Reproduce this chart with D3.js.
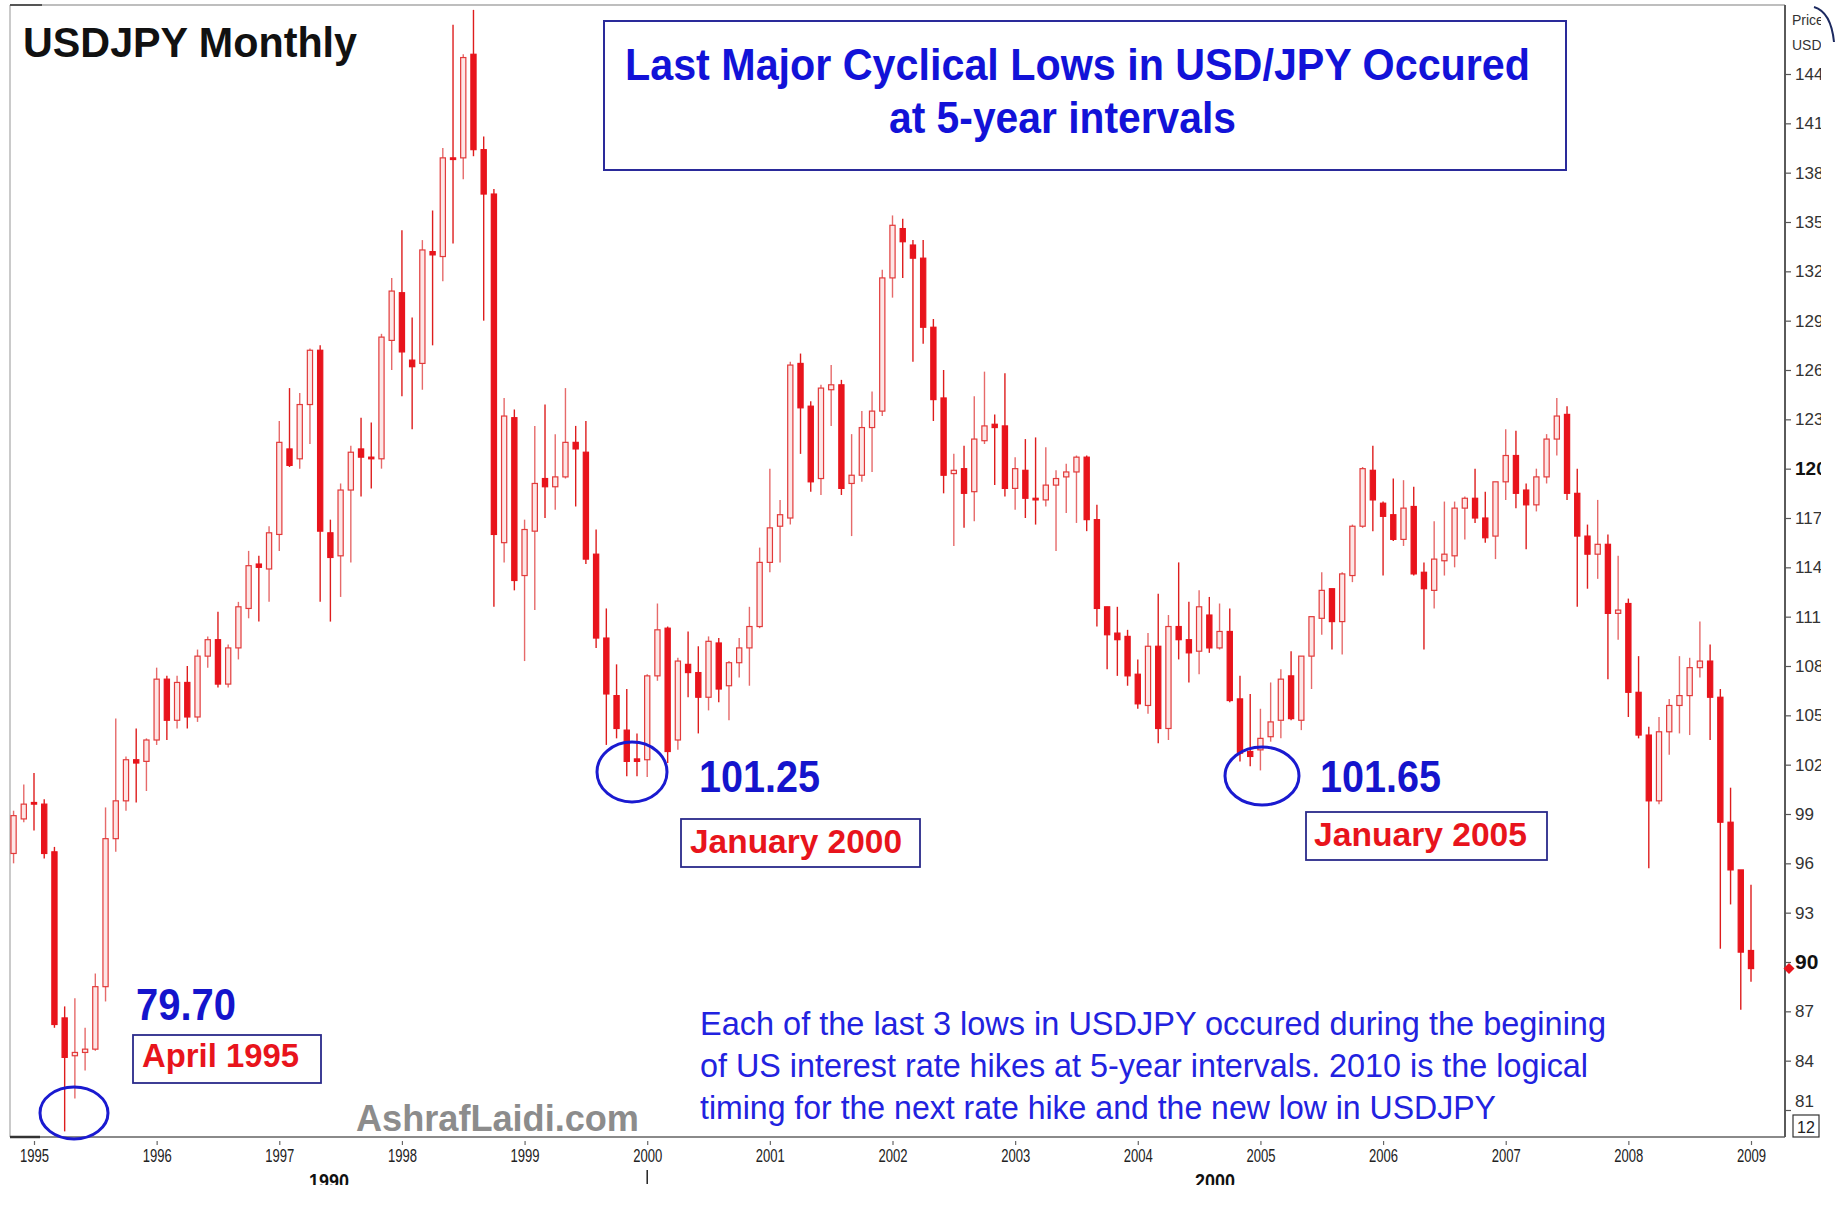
<!DOCTYPE html>
<html lang="en">
<head>
<meta charset="UTF-8">
<title>USDJPY Monthly</title>
<script src="https://cdnjs.cloudflare.com/ajax/libs/d3/7.8.5/d3.min.js"></script>
<style>
  body { margin: 0; background: #fff; font-family: Arial, "Liberation Sans", sans-serif; }
  svg { display: block; }
</style>
</head>
<body>
<svg id="chart" width="1835" height="1225"></svg>
<script>
// monthly candles, Nov 1994 .. Jan 2009
const months = [
  '1994-11','1994-12',
  '1995-01','1995-02','1995-03','1995-04','1995-05','1995-06','1995-07','1995-08','1995-09','1995-10','1995-11','1995-12',
  '1996-01','1996-02','1996-03','1996-04','1996-05','1996-06','1996-07','1996-08','1996-09','1996-10','1996-11','1996-12',
  '1997-01','1997-02','1997-03','1997-04','1997-05','1997-06','1997-07','1997-08','1997-09','1997-10','1997-11','1997-12',
  '1998-01','1998-02','1998-03','1998-04','1998-05','1998-06','1998-07','1998-08','1998-09','1998-10','1998-11','1998-12',
  '1999-01','1999-02','1999-03','1999-04','1999-05','1999-06','1999-07','1999-08','1999-09','1999-10','1999-11','1999-12',
  '2000-01','2000-02','2000-03','2000-04','2000-05','2000-06','2000-07','2000-08','2000-09','2000-10','2000-11','2000-12',
  '2001-01','2001-02','2001-03','2001-04','2001-05','2001-06','2001-07','2001-08','2001-09','2001-10','2001-11','2001-12',
  '2002-01','2002-02','2002-03','2002-04','2002-05','2002-06','2002-07','2002-08','2002-09','2002-10','2002-11','2002-12',
  '2003-01','2003-02','2003-03','2003-04','2003-05','2003-06','2003-07','2003-08','2003-09','2003-10','2003-11','2003-12',
  '2004-01','2004-02','2004-03','2004-04','2004-05','2004-06','2004-07','2004-08','2004-09','2004-10','2004-11','2004-12',
  '2005-01','2005-02','2005-03','2005-04','2005-05','2005-06','2005-07','2005-08','2005-09','2005-10','2005-11','2005-12',
  '2006-01','2006-02','2006-03','2006-04','2006-05','2006-06','2006-07','2006-08','2006-09','2006-10','2006-11','2006-12',
  '2007-01','2007-02','2007-03','2007-04','2007-05','2007-06','2007-07','2007-08','2007-09','2007-10','2007-11','2007-12',
  '2008-01','2008-02','2008-03','2008-04','2008-05','2008-06','2008-07','2008-08','2008-09','2008-10','2008-11','2008-12',
  '2009-01'
];

const opens = [
  96.6, 98.7,
  99.7, 99.6, 96.7, 86.6, 84.3, 84.5, 84.7, 88.5, 97.5, 99.8, 102.3, 102.2,
  103.5, 107.2, 104.7, 107.0, 104.9, 108.6, 109.6, 106.9, 109.1, 111.5, 114.2, 113.9,
  116.0, 121.2, 120.6, 123.9, 127.2, 116.1, 114.7, 118.7, 121.2, 120.7, 120.6, 127.8,
  130.7, 126.6, 126.4, 133.2, 132.9, 138.9, 138.9, 145.2, 139.4, 136.7, 115.5, 123.1,
  113.5, 116.2, 119.4, 118.9, 119.5, 121.6, 121.0, 114.8, 109.7, 106.2, 104.1, 102.35,
  102.3, 107.4, 110.3, 103.5, 108.1, 107.6, 106.1, 109.4, 106.8, 108.2, 109.1, 110.4,
  114.3, 116.5, 117.0, 126.4, 123.8, 119.4, 124.8, 125.1, 119.1, 119.6, 122.5, 123.5,
  131.6, 134.6, 133.6, 132.8, 128.6, 124.3, 119.7, 120.0, 118.6, 121.7, 122.7, 122.6,
  118.8, 119.9, 118.2, 118.1, 119.0, 119.5, 119.8, 120.7, 116.9, 111.6, 110.0, 109.8,
  107.5, 105.6, 109.2, 104.2, 110.4, 109.6, 108.9, 111.1, 109.1, 110.1, 106.0, 102.8,
  102.9, 103.7, 104.7, 107.4, 104.7, 108.6, 110.9, 112.7, 110.7, 113.5, 116.5, 119.9,
  117.9, 117.2, 115.7, 117.7, 113.7, 112.6, 114.4, 114.7, 117.6, 118.2, 117.0, 115.9,
  119.2, 120.8, 118.7, 117.8, 119.5, 121.8, 123.3, 118.5, 115.9, 114.8, 115.4, 111.2,
  111.8, 106.4, 103.8, 99.8, 104.0, 105.6, 106.2, 107.9, 108.3, 106.1, 98.5, 95.6,
  90.7
];

const highs = [
  99.2, 100.8,
  101.5, 99.9, 97.0, 87.3, 87.8, 86.0, 89.3, 99.4, 104.8, 102.5, 104.2, 103.6,
  107.9, 107.4, 107.4, 108.0, 109.0, 109.8, 111.3, 109.3, 111.9, 115.0, 114.7, 116.5,
  122.9, 124.9, 124.6, 127.3, 127.5, 116.9, 119.1, 121.4, 123.1, 122.8, 128.2, 131.6,
  134.5, 129.2, 133.9, 135.7, 139.5, 147.0, 145.2, 147.9, 140.2, 137.0, 124.3, 123.6,
  116.9, 122.6, 123.9, 122.1, 124.9, 122.6, 122.9, 116.3, 111.5, 108.1, 106.6, 103.9,
  107.5, 111.8, 110.4, 108.5, 110.1, 109.2, 109.8, 109.7, 108.3, 109.7, 111.6, 115.2,
  120.0, 118.1, 126.5, 127.0, 124.1, 125.1, 126.3, 125.4, 122.1, 123.5, 124.7, 132.1,
  135.4, 135.2, 133.9, 133.9, 129.1, 126.0, 120.9, 121.4, 124.4, 125.9, 123.3, 125.8,
  120.7, 121.8, 121.9, 121.3, 119.9, 120.3, 120.8, 120.8, 117.8, 111.6, 111.6, 110.2,
  108.4, 110.0, 112.4, 111.1, 114.3, 111.9, 112.6, 112.2, 111.8, 111.5, 107.4, 106.3,
  105.4, 107.0, 107.8, 108.9, 108.6, 111.0, 113.7, 112.7, 113.7, 116.6, 120.1, 121.4,
  118.0, 119.4, 119.3, 118.9, 114.3, 116.8, 118.0, 118.0, 118.3, 120.0, 118.6, 119.2,
  122.4, 122.3, 119.1, 120.0, 122.1, 124.3, 123.8, 120.0, 116.6, 118.1, 116.0, 114.7,
  112.1, 108.6, 104.3, 104.9, 106.0, 108.6, 108.5, 110.7, 109.3, 106.6, 100.6, 95.6,
  94.7
];

const lows = [
  96.0, 98.5,
  98.0, 96.3, 86.0, 79.7, 81.7, 83.4, 84.6, 87.6, 96.7, 99.2, 99.7, 100.4,
  103.2, 103.5, 104.2, 104.2, 104.6, 107.9, 106.7, 106.7, 108.4, 110.9, 110.7, 111.9,
  115.0, 120.1, 120.0, 121.5, 111.9, 110.7, 112.2, 114.3, 118.3, 118.8, 120.0, 126.0,
  124.4, 122.4, 124.8, 127.5, 131.4, 133.7, 137.6, 139.0, 129.0, 111.6, 114.3, 112.6,
  108.3, 111.4, 117.0, 117.5, 119.4, 117.7, 114.2, 109.1, 103.2, 103.6, 101.3, 101.3,
  101.25, 107.1, 102.1, 102.9, 106.1, 103.9, 105.3, 105.8, 104.7, 107.3, 106.8, 110.3,
  113.7, 114.3, 116.6, 120.9, 118.6, 118.4, 122.6, 118.4, 115.9, 119.2, 119.8, 123.2,
  130.4, 131.6, 126.5, 127.6, 122.9, 118.5, 115.3, 116.4, 116.8, 121.5, 119.0, 118.3,
  117.5, 117.0, 116.6, 117.7, 115.0, 117.3, 116.7, 116.2, 110.4, 107.8, 107.4, 106.8,
  105.4, 105.1, 103.3, 103.5, 108.4, 107.0, 107.5, 108.8, 109.0, 105.8, 102.2, 101.9,
  101.65, 103.4, 103.6, 104.7, 104.1, 106.6, 109.9, 109.0, 108.7, 113.1, 116.4, 116.2,
  113.5, 115.6, 115.3, 113.5, 109.0, 111.5, 113.5, 114.0, 115.7, 116.7, 115.5, 114.5,
  118.1, 117.6, 115.1, 117.4, 119.1, 120.8, 118.1, 111.6, 112.7, 113.3, 107.2, 109.6,
  104.9, 103.6, 95.7, 99.6, 102.6, 103.9, 103.8, 107.3, 103.5, 90.8, 93.5, 87.1,
  88.8
];

const closes = [
  98.9, 99.6,
  99.6, 96.6, 86.2, 84.2, 84.5, 84.7, 88.5, 97.5, 99.8, 102.3, 102.1, 103.5,
  107.2, 104.7, 107.0, 104.9, 108.6, 109.6, 106.9, 109.1, 111.6, 114.1, 114.0, 116.1,
  121.6, 120.2, 123.9, 127.2, 116.2, 114.6, 118.7, 121.0, 120.7, 120.6, 128.0, 130.8,
  127.1, 126.2, 133.3, 133.0, 138.9, 138.8, 145.0, 139.4, 136.7, 116.0, 123.2, 113.2,
  116.3, 119.1, 118.9, 119.5, 121.6, 121.2, 114.5, 109.7, 106.3, 104.2, 102.2, 102.2,
  107.4, 110.2, 102.8, 108.3, 107.6, 106.1, 109.5, 106.6, 108.2, 109.1, 110.4, 114.3,
  116.4, 117.2, 126.3, 123.7, 119.2, 124.9, 125.1, 118.8, 119.6, 122.5, 123.5, 131.6,
  134.8, 133.8, 132.8, 128.6, 124.2, 119.6, 119.9, 118.5, 121.8, 122.6, 122.5, 118.8,
  120.0, 118.2, 118.1, 119.0, 119.4, 119.8, 120.7, 116.9, 111.5, 109.9, 109.6, 107.4,
  105.7, 109.2, 104.2, 110.4, 109.6, 108.8, 111.6, 109.1, 110.1, 105.9, 102.7, 102.5,
  103.6, 104.6, 107.2, 104.8, 108.6, 111.0, 112.6, 110.7, 113.6, 116.5, 120.0, 118.1,
  117.1, 115.7, 117.6, 113.6, 112.7, 114.5, 114.8, 117.6, 118.2, 117.0, 115.8, 119.2,
  120.8, 118.5, 117.8, 119.5, 121.8, 123.2, 118.5, 115.9, 114.8, 115.4, 111.2, 111.4,
  106.4, 103.8, 99.8, 104.0, 105.6, 106.2, 107.9, 108.3, 106.1, 98.5, 95.6, 90.6,
  89.6
];

const yearTicks = [1995,1996,1997,1998,1999,2000,2001,2002,2003,2004,2005,2006,2007,2008,2009];
const priceTicks = [81,84,87,90,93,96,99,102,105,108,111,114,117,120,123,126,129,132,135,138,141,144];
const lastPrice = 89.6;

// the three lows that get circled + labelled
const lowNotes = [
  { month: '1995-04', value: '79.70', label: 'April 1995' },
  { month: '1999-12', value: '101.25', label: 'January 2000' },
  { month: '2005-01', value: '101.65', label: 'January 2005' }
];

const noteLines = [
  'Each of the last 3 lows in USDJPY occured during the begining',
  'of US interest rate hikes at 5-year intervals. 2010 is the logical',
  'timing for the next rate hike and the new low in USDJPY'
];

const svg = d3.select('#chart');
const W = 1835, H = 1225;
const plot = { left: 10, top: 5, right: 1785, bottom: 1137 };

// month index counted from Jan 1995
const monthIdx = m => (+m.slice(0, 4) - 1995) * 12 + (+m.slice(5, 7) - 1);

const x = d3.scaleLinear().domain([0, 168]).range([34, 1751]);
const y = d3.scaleLinear().domain([90, 144]).range([962, 74]);

svg.append('rect').attr('width', W).attr('height', H).attr('fill', '#fff');

const defs = svg.append('defs');
defs.append('clipPath').attr('id', 'axisClip')
  .append('rect').attr('x', 1780).attr('y', 0).attr('width', 41).attr('height', 1145);
defs.append('clipPath').attr('id', 'decadeClip')
  .append('rect').attr('x', 0).attr('y', 1160).attr('width', W).attr('height', 25);

// frame
svg.append('line').attr('x1', plot.left).attr('x2', plot.right).attr('y1', plot.top).attr('y2', plot.top)
  .attr('stroke', '#a8a8a8').attr('stroke-width', 1.5);
svg.append('line').attr('x1', plot.left).attr('x2', plot.left).attr('y1', plot.top).attr('y2', plot.bottom)
  .attr('stroke', '#b8b8b8').attr('stroke-width', 1.5);
svg.append('line').attr('x1', plot.left).attr('x2', 42).attr('y1', plot.top).attr('y2', plot.top)
  .attr('stroke', '#555').attr('stroke-width', 2);

// candles
const candles = svg.append('g');
months.forEach((m, i) => {
  const cx = x(monthIdx(m));
  const o = opens[i], c = closes[i];
  const up = c >= o;
  candles.append('line')
    .attr('x1', cx).attr('x2', cx)
    .attr('y1', y(highs[i])).attr('y2', y(lows[i]))
    .attr('stroke', up ? '#e66a6a' : '#de1d1d').attr('stroke-width', 1.4);
  const top = y(Math.max(o, c));
  const h = Math.max(y(Math.min(o, c)) - top, 1.6);
  candles.append('rect')
    .attr('x', cx - 2.6).attr('y', top)
    .attr('width', 5.2).attr('height', h)
    .attr('fill', up ? '#fde6e6' : '#e8141c')
    .attr('stroke', up ? '#e23a3a' : '#e8141c')
    .attr('stroke-width', 1.2);
});

// bottom + right axis lines
svg.append('line').attr('x1', plot.left).attr('x2', plot.right).attr('y1', plot.bottom).attr('y2', plot.bottom)
  .attr('stroke', '#8a8a8a').attr('stroke-width', 2);
svg.append('line').attr('x1', plot.left).attr('x2', 40).attr('y1', plot.bottom).attr('y2', plot.bottom)
  .attr('stroke', '#333').attr('stroke-width', 2.5);
svg.append('line').attr('x1', plot.right).attr('x2', plot.right).attr('y1', plot.top).attr('y2', plot.bottom)
  .attr('stroke', '#5a5a5a').attr('stroke-width', 2);

// x axis (years)
const xAxis = svg.append('g')
  .attr('transform', `translate(0,${plot.bottom + 4})`)
  .call(d3.axisBottom(x)
    .tickValues(yearTicks.map(yr => (yr - 1995) * 12))
    .tickFormat((d, i) => yearTicks[i])
    .tickSize(4).tickPadding(4));
xAxis.select('.domain').remove();
xAxis.selectAll('.tick line').attr('stroke', '#666').attr('stroke-width', 1.2);
xAxis.selectAll('text')
  .attr('font-family', 'Arial, "Liberation Sans", sans-serif')
  .attr('font-size', 18).attr('fill', '#222')
  .attr('textLength', 29).attr('lengthAdjust', 'spacingAndGlyphs');

// decade labels under the years
const decade = svg.append('g').attr('clip-path', 'url(#decadeClip)');
[['1990', 329], ['2000', 1215]].forEach(([t, cx]) => {
  decade.append('text').attr('x', cx).attr('y', 1188)
    .attr('text-anchor', 'middle').attr('font-size', 20).attr('font-weight', 'bold')
    .attr('fill', '#111').attr('textLength', 40).attr('lengthAdjust', 'spacingAndGlyphs')
    .text(t);
});
svg.append('line').attr('x1', x(60)).attr('x2', x(60)).attr('y1', 1170).attr('y2', 1184)
  .attr('stroke', '#222').attr('stroke-width', 1.5);

// right price axis (labels cut off at the picture's right edge)
const yWrap = svg.append('g').attr('clip-path', 'url(#axisClip)');
const yAxis = yWrap.append('g')
  .attr('transform', `translate(${plot.right},0)`)
  .call(d3.axisRight(y).tickValues(priceTicks).tickSize(6).tickPadding(4));
yAxis.select('.domain').remove();
yAxis.selectAll('.tick line').attr('stroke', '#555').attr('stroke-width', 1.2);
yAxis.selectAll('text')
  .attr('font-family', 'Arial, "Liberation Sans", sans-serif')
  .attr('font-size', 17).attr('fill', '#333');
yAxis.selectAll('.tick').filter(d => d === 120).select('text')
  .attr('font-weight', 'bold').attr('font-size', 19).attr('fill', '#111');
yAxis.selectAll('.tick').filter(d => d === 90).select('text')
  .attr('font-weight', 'bold').attr('font-size', 21).attr('fill', '#111');
yAxis.selectAll('.tick').filter(d => d === 81).select('text')
  .attr('dy', '-0.2em');

yWrap.append('text').attr('x', 1792).attr('y', 25).attr('font-size', 14).attr('fill', '#333').text('Price');
yWrap.append('text').attr('x', 1792).attr('y', 50).attr('font-size', 14).attr('fill', '#333').text('USD');
svg.append('path').attr('d', 'M1814,7 Q1831,12 1834,42')
  .attr('fill', 'none').attr('stroke', '#1c2a60').attr('stroke-width', 2);

// last price marker
svg.append('path')
  .attr('transform', `translate(${plot.right + 4},${y(lastPrice)})`)
  .attr('d', 'M0,-5.5L5.5,0L0,5.5L-5.5,0Z').attr('fill', '#e8141c');

// "12" box
svg.append('rect').attr('x', 1793).attr('y', 1115).attr('width', 26).attr('height', 22)
  .attr('fill', '#fff').attr('stroke', '#333').attr('stroke-width', 1.2);
svg.append('text').attr('x', 1806).attr('y', 1133).attr('text-anchor', 'middle')
  .attr('font-size', 16).attr('fill', '#222').text('12');

// titles
svg.append('text').attr('x', 23).attr('y', 57)
  .attr('font-size', 43).attr('font-weight', 'bold').attr('fill', '#111')
  .attr('textLength', 334).attr('lengthAdjust', 'spacingAndGlyphs')
  .text('USDJPY Monthly');

svg.append('rect').attr('x', 604).attr('y', 21).attr('width', 962).attr('height', 149)
  .attr('fill', '#fff').attr('stroke', '#2a2a9a').attr('stroke-width', 2);
svg.append('text').attr('x', 625).attr('y', 80)
  .attr('font-size', 45).attr('font-weight', 'bold').attr('fill', '#1212d8')
  .attr('textLength', 905).attr('lengthAdjust', 'spacingAndGlyphs')
  .text('Last Major Cyclical Lows in USD/JPY Occured');
svg.append('text').attr('x', 889).attr('y', 133)
  .attr('font-size', 45).attr('font-weight', 'bold').attr('fill', '#1212d8')
  .attr('textLength', 347).attr('lengthAdjust', 'spacingAndGlyphs')
  .text('at 5-year intervals');

// circles and labels at the lows
const notePos = [
  { cx: 74, cy: 1113, rx: 34, ry: 26, vx: 136, vy: 1020, vw: 100, bx: 133, by: 1035, bw: 188, bh: 48, tx: 142, ty: 1067, tw: 157 },
  { cx: 632, cy: 772, rx: 35, ry: 30, vx: 699, vy: 792, vw: 121, bx: 681, by: 819, bw: 239, bh: 48, tx: 690, ty: 853, tw: 212 },
  { cx: 1262, cy: 776, rx: 37, ry: 29, vx: 1320, vy: 792, vw: 121, bx: 1306, by: 812, bw: 241, bh: 48, tx: 1314, ty: 846, tw: 213 }
];
lowNotes.forEach((n, i) => {
  const p = notePos[i];
  svg.append('ellipse').attr('cx', p.cx).attr('cy', p.cy).attr('rx', p.rx).attr('ry', p.ry)
    .attr('fill', 'none').attr('stroke', '#1a1ad0').attr('stroke-width', 3);
  svg.append('text').attr('x', p.vx).attr('y', p.vy)
    .attr('font-size', 45).attr('font-weight', 'bold').attr('fill', '#1414cc')
    .attr('textLength', p.vw).attr('lengthAdjust', 'spacingAndGlyphs')
    .text(n.value);
  svg.append('rect').attr('x', p.bx).attr('y', p.by).attr('width', p.bw).attr('height', p.bh)
    .attr('fill', '#fff').attr('stroke', '#2a2a8a').attr('stroke-width', 1.8);
  svg.append('text').attr('x', p.tx).attr('y', p.ty)
    .attr('font-size', 33).attr('font-weight', 'bold').attr('fill', '#e8141c')
    .attr('textLength', p.tw).attr('lengthAdjust', 'spacingAndGlyphs')
    .text(n.label);
});

// comment text
const lineLen = [906, 888, 796];
noteLines.forEach((t, i) => {
  svg.append('text').attr('x', 700).attr('y', 1035 + i * 42)
    .attr('font-size', 33).attr('fill', '#2222e0')
    .attr('textLength', lineLen[i]).attr('lengthAdjust', 'spacingAndGlyphs')
    .text(t);
});

svg.append('text').attr('x', 356).attr('y', 1131)
  .attr('font-size', 37).attr('font-weight', 'bold').attr('fill', '#8c8c8c')
  .attr('textLength', 283).attr('lengthAdjust', 'spacingAndGlyphs')
  .text('AshrafLaidi.com');
</script>
</body>
</html>
